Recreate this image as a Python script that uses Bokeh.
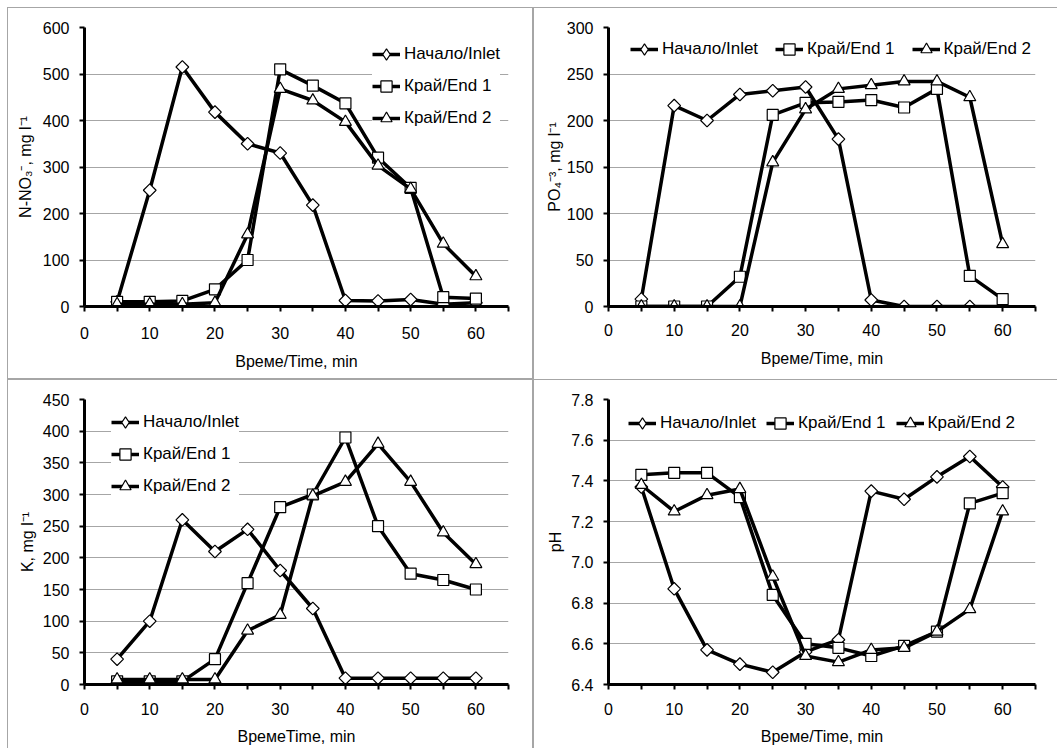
import numpy as np
from bokeh.plotting import figure
from bokeh.layouts import gridplot
from bokeh.models import (Legend, LegendItem, FixedTicker, NumeralTickFormatter, Range1d)
from bokeh.embed import file_html
from bokeh.resources import INLINE

# ---------------- data ----------------
time_min = [5, 10, 15, 20, 25, 30, 35, 40, 45, 50, 55, 60]
series_labels = ["Начало/Inlet", "Край/End 1", "Край/End 2"]

no3_inlet = [10, 250, 515, 418, 350, 330, 218, 13, 12, 15, 5, 8]
no3_end1 = [10, 10, 12, 37, 100, 510, 475, 437, 320, 255, 20, 17]
no3_end2 = [5, 5, 5, 8, 155, 468, 443, 397, 303, 253, 135, 65]

po4_inlet = [8, 216, 200, 228, 232, 236, 180, 7, 0, 0, 0, 0]
po4_end1 = [0, 0, 0, 32, 206, 219, 220, 222, 214, 234, 33, 8]
po4_end2 = [0, 0, 0, 0, 155, 212, 234, 238, 242, 242, 225, 67]

k_inlet = [40, 100, 260, 210, 245, 180, 120, 10, 10, 10, 10, 10]
k_end1 = [5, 5, 5, 40, 160, 280, 300, 390, 250, 175, 165, 150]
k_end2 = [8, 8, 8, 8, 85, 110, 298, 320, 380, 320, 240, 190]

ph_inlet = [7.37, 6.87, 6.57, 6.50, 6.46, 6.56, 6.62, 7.35, 7.31, 7.42, 7.52, 7.37]
ph_end1 = [7.43, 7.44, 7.44, 7.32, 6.84, 6.60, 6.58, 6.54, 6.59, 6.66, 7.29, 7.34]
ph_end2 = [7.38, 7.25, 7.33, 7.36, 6.93, 6.54, 6.51, 6.57, 6.58, 6.66, 6.77, 7.25]

x_major = [0, 10, 20, 30, 40, 50, 60]
x_minor = [5, 15, 25, 35, 45, 55, 65]

FONT = "Liberation Sans"
GRID = "#a6a6a6"


def style_axis(ax, standoff, label_standoff):
    ax.axis_line_width = 3
    ax.axis_line_color = "black"
    ax.major_tick_line_width = 2
    ax.minor_tick_line_width = 2
    ax.major_tick_line_color = "black"
    ax.minor_tick_line_color = "black"
    ax.major_tick_in = 0
    ax.major_tick_out = 5
    ax.minor_tick_in = 0
    ax.minor_tick_out = 5
    ax.major_label_text_font = FONT
    ax.major_label_text_font_size = "16px"
    ax.major_label_text_color = "black"
    ax.major_label_standoff = standoff
    ax.axis_label_text_font = FONT
    ax.axis_label_text_font_size = "16px"
    ax.axis_label_text_font_style = "normal"
    ax.axis_label_text_color = "black"
    ax.axis_label_standoff = label_standoff


def make_panel(width, height, borders, ys, y_end, y_ticks, ylabel, xlabel,
               legend_loc, orientation, spacing, shadow, y_start=0, fmt=None,
               xl_standoff=11, xa_standoff=10, ya_standoff=4, legend_bg=1.0):
    left, right, top, bottom = borders
    p = figure(width=width, height=height, output_backend="svg", toolbar_location=None,
               x_range=Range1d(0, 65), y_range=Range1d(y_start, y_end),
               min_border_left=left, min_border_right=right,
               min_border_top=top, min_border_bottom=bottom,
               styles={"box-shadow": shadow})
    p.border_fill_color = None
    p.background_fill_color = "white"
    p.outline_line_color = None
    p.xgrid.visible = False
    p.ygrid.grid_line_color = GRID
    p.ygrid.grid_line_width = 1

    p.xaxis.ticker = FixedTicker(ticks=x_major, minor_ticks=x_minor)
    p.yaxis.ticker = FixedTicker(ticks=y_ticks, minor_ticks=[])
    if fmt:
        p.yaxis.formatter = NumeralTickFormatter(format=fmt)
    p.xaxis.axis_label = xlabel
    p.yaxis.axis_label = ylabel
    style_axis(p.xaxis[0], xl_standoff, xa_standoff)
    style_axis(p.yaxis[0], 10, ya_standoff)

    markers = [("square", 9, np.pi / 4), ("square", 11, 0), ("triangle", 12, 0)]
    legend_markers = ["diamond", "square", "triangle"]
    items = []
    for yvals, (mk, sz, ang), lmk, lab in zip(ys, markers, legend_markers, series_labels):
        rl = p.line(time_min, yvals, line_color="black", line_width=3.5)
        p.scatter(time_min, yvals, marker=mk, size=sz, angle=ang,
                  fill_color="white", line_color="black", line_width=1.2)
        rm = p.scatter([np.nan], [np.nan], marker=lmk, size=11,
                       fill_color="white", line_color="black", line_width=1.2)
        items.append(LegendItem(label=lab, renderers=[rl, rm]))

    legend = Legend(items=items, location=legend_loc, orientation=orientation,
                    glyph_width=28, glyph_height=28, label_standoff=4,
                    spacing=spacing, padding=6, margin=0,
                    border_line_color=None, background_fill_color="white",
                    background_fill_alpha=legend_bg,
                    label_text_font=FONT, label_text_font_size="17px",
                    label_text_color="black")
    p.add_layout(legend)
    return p


P1_SHADOW = (f"inset 7px 7px 0 0 white, inset 8px 8px 0 0 {GRID}, "
             f"inset -1px -1px 0 0 {GRID}")
P2_SHADOW = f"inset 0 7px 0 0 white, inset 1px 8px 0 0 {GRID}"
P3_SHADOW = (f"inset 7px 0 0 0 white, inset 8px 1px 0 0 {GRID}, "
             f"inset -1px 0 0 0 {GRID}")
P4_SHADOW = f"inset 1px 1px 0 0 {GRID}"

p1 = make_panel(533, 379, (84, 25, 27, 73), [no3_inlet, no3_end1, no3_end2], 600,
                [0, 100, 200, 300, 400, 500, 600], "N-NO₃⁻, mg l⁻¹", "Време/Time, min",
                (288, 174), "vertical", 4, P1_SHADOW,
                xl_standoff=15, xa_standoff=11, ya_standoff=6)
p2 = make_panel(524, 379, (75, 22, 27, 67), [po4_inlet, po4_end1, po4_end2], 300,
                [0, 50, 100, 150, 200, 250, 300], "PO₄⁻³, mg l⁻¹", "Време/Time, min",
                (22, 243), "horizontal", 17, P2_SHADOW,
                xl_standoff=12, xa_standoff=11, ya_standoff=1, legend_bg=0)
p3 = make_panel(533, 369, (80, 25, 20, 64), [k_inlet, k_end1, k_end2], 450,
                [0, 50, 100, 150, 200, 250, 300, 350, 400, 450], "K, mg l⁻¹", "ВремеTime, min",
                (27, 184), "vertical", 4, P3_SHADOW,
                xl_standoff=13, xa_standoff=10, ya_standoff=4)
p4 = make_panel(524, 369, (67, 22, 20, 63), [ph_inlet, ph_end1, ph_end2], 7.8,
                [6.4, 6.6, 6.8, 7.0, 7.2, 7.4, 7.6, 7.8], "pH", "Време/Time, min",
                (20, 247), "horizontal", 10, P4_SHADOW, y_start=6.4, fmt="0.0",
                xl_standoff=13, xa_standoff=10, ya_standoff=4, legend_bg=0)

grid = gridplot([[p1, p2], [p3, p4]], toolbar_location=None)

open("out.html", "w").write(file_html(grid, INLINE))
